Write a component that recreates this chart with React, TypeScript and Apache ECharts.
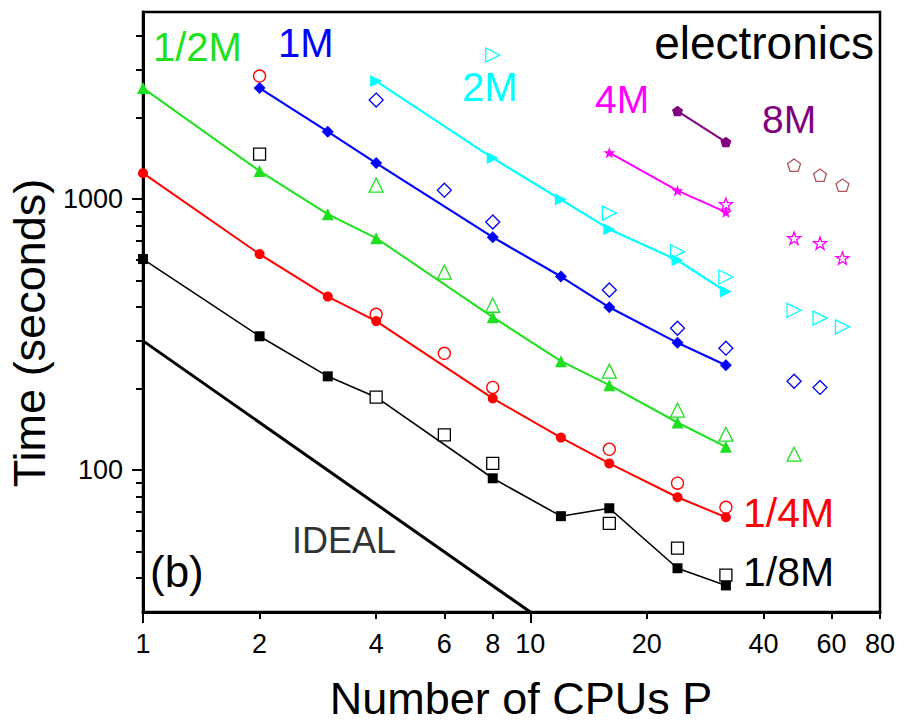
import React, { useEffect, useRef } from "react";
import * as echarts from "echarts";

// ---------- axes ----------
const X_MIN = 1;
const X_MAX = 80;
const Y_MIN = 30;
const Y_MAX = 4900;
const X_LABELS = [1, 2, 4, 6, 8, 10, 20, 40, 60, 80];
const X_MAJOR_TICKS = [1, 10];
const X_MINOR_TICKS = [2, 4, 6, 8, 20, 40, 60, 80];
const Y_LABELS = [100, 1000];
const Y_MAJOR_TICKS = [100, 1000];
const Y_MINOR_TICKS = [40, 50, 60, 70, 80, 90, 200, 300, 400, 500, 600, 700, 800, 900, 2000, 3000, 4000];

// ---------- data (P = number of CPUs, T = time in seconds) ----------
const P_8TH = [1, 2, 3, 4, 8, 12, 16, 24, 32];
const T_8TH = [601, 312, 222, 186, 93.4, 67.7, 72.4, 43.5, 37.6];
const P_8TH_OPEN = [2, 4, 6, 8, 16, 24, 32];
const T_8TH_OPEN = [1466, 186, 135, 106, 63.7, 51.6, 41];

const P_QUARTER = [1, 2, 3, 4, 8, 12, 16, 24, 32];
const T_QUARTER = [1247, 627, 437, 355, 184, 132, 106, 79.5, 67.1];
const P_QUARTER_OPEN = [2, 4, 6, 8, 16, 24, 32];
const T_QUARTER_OPEN = [2844, 376, 270, 202, 119.5, 89.6, 73.0];

const P_HALF = [1, 2, 3, 4, 8, 12, 16, 24, 32];
const T_HALF = [2568, 1269, 880, 718, 367, 252.5, 206, 150, 122];
const P_HALF_OPEN = [4, 6, 8, 16, 24, 32, 48];
const T_HALF_OPEN = [1126, 538, 406, 232, 166.5, 135.8, 114.6];

const P_1M = [2, 3, 4, 8, 12, 16, 24, 32];
const T_1M = [2568, 1774, 1358, 724, 518, 399, 295, 244];
const P_1M_OPEN = [4, 6, 8, 16, 24, 32, 48, 56];
const T_1M_OPEN = [2319, 1079, 823, 462, 334, 282, 213, 202];

const P_2M = [4, 8, 12, 16, 24, 32];
const T_2M = [2725, 1417, 996, 775, 595, 456];
const P_2M_OPEN = [8, 16, 24, 32, 48, 56, 64];
const T_2M_OPEN = [3400, 888, 640, 516, 389, 364, 338];

const P_4M = [16, 24, 32];
const T_4M = [1484, 1075, 895];
const P_4M_OPEN = [32, 48, 56, 64];
const T_4M_OPEN = [958, 718, 688, 606];

const P_8M = [24, 32];
const T_8M = [2112, 1623];
const P_8M_OPEN = [48, 56, 64];
const T_8M_OPEN = [1335, 1226, 1126];

const P_IDEAL = [1, 10];
const T_IDEAL = [300, 30];

// ---------- styles ----------
const FONT = '"Liberation Sans", Arial, Helvetica, sans-serif';
const GREEN = "#1ee01e";
const BLUE = "#0000ff";
const CYAN = "#00ffff";
const MAGENTA = "#ff00ff";
const PURPLE = "#800080";
const RED = "#ff0000";
const BLACK = "#000000";
const BROWN = "#b05555";

const STAR = "path://M100,0L123.5,67.6L195.1,69.1L138,112.4L158.8,180.9L100,140L41.2,180.9L62,112.4L4.9,69.1L76.5,67.6Z";
const PENTAGON = "path://M100,0L195.1,69.1L158.8,180.9L41.2,180.9L4.9,69.1Z";
const RIGHT_TRI = "path://M0,0L100,50L0,100Z";

const pairs = (xs: number[], ys: number[]) => xs.map((x, i) => [x, ys[i]]);

// filled points that sit exactly under an open marker are hidden by it
const visibleFilled = (xs: number[], ys: number[], oxs: number[], oys: number[]) =>
  pairs(xs, ys).filter(
    ([x, y]) => !oxs.some((ox, j) => ox === x && Math.abs(Math.log10(oys[j] / y)) < 0.01)
  );

const lineSeries = (name: string, xs: number[], ys: number[], color: string, width: number) => ({
  name,
  type: "line",
  data: pairs(xs, ys),
  symbol: "none",
  lineStyle: { color, width },
  z: 2,
  silent: true,
});

const filledSeries = (name: string, data: number[][], color: string, symbol: string, size: number) => ({
  name: name + " filled",
  type: "scatter",
  data,
  symbol,
  symbolSize: size,
  symbolKeepAspect: true,
  itemStyle: { color, opacity: 1 },
  z: 4,
  silent: true,
});

const openSeries = (name: string, xs: number[], ys: number[], color: string, symbol: string, size: number) => ({
  name: name + " open",
  type: "scatter",
  data: pairs(xs, ys),
  symbol,
  symbolSize: size,
  symbolKeepAspect: true,
  itemStyle: { color: "#ffffff", borderColor: color, borderWidth: 1.3, opacity: 1 },
  z: 3,
  silent: true,
});

const label = (text: string, x: number, y: number, color: string, size: number, align = "left") => ({
  type: "text",
  x,
  y,
  z: 10,
  silent: true,
  style: {
    text,
    fill: color,
    fontSize: size,
    fontFamily: FONT,
    align,
    verticalAlign: "middle",
  },
});

export default function App() {
  const ref = useRef<HTMLDivElement>(null);

  useEffect(() => {
    if (!ref.current) return;
    const chart = echarts.init(ref.current, undefined, { renderer: "svg" });

    const axisLine = { show: true, onZero: false, lineStyle: { color: BLACK, width: 3 } };
    const tickStyle = { color: BLACK, width: 2 };
    const plain = (v: number) => String(Math.round(v));

    const option: any = {
      animation: false,
      backgroundColor: "#ffffff",
      grid: {
        left: 143,
        right: 30,
        top: 12,
        bottom: 110,
        containLabel: false,
        outerBoundsMode: "none",
        show: true,
        borderColor: BLACK,
        borderWidth: 2.5,
        backgroundColor: "transparent",
      },
      xAxis: [
        {
          type: "log",
          logBase: 10,
          min: X_MIN,
          max: X_MAX,
          position: "bottom",
          axisLine,
          axisTick: { show: true, customValues: X_MAJOR_TICKS, length: 11, lineStyle: tickStyle },
          axisLabel: {
            customValues: X_LABELS,
            formatter: plain,
            fontSize: 27,
            color: BLACK,
            fontFamily: FONT,
            margin: 18,
          },
          splitLine: { show: false },
          minorTick: { show: false },
          minorSplitLine: { show: false },
          name: "Number of CPUs P",
          nameLocation: "middle",
          nameGap: 67,
          nameTextStyle: {
            fontSize: 45,
            lineHeight: 38,
            color: BLACK,
            fontFamily: FONT,
            padding: [0, 0, 0, 19],
          },
        },
        {
          type: "log",
          logBase: 10,
          min: X_MIN,
          max: X_MAX,
          position: "bottom",
          axisLine: { show: false, onZero: false },
          axisTick: { show: true, customValues: X_MINOR_TICKS, length: 7, lineStyle: tickStyle },
          axisLabel: { show: false },
          splitLine: { show: false },
        },
      ],
      yAxis: [
        {
          type: "log",
          logBase: 10,
          min: Y_MIN,
          max: Y_MAX,
          position: "left",
          axisLine,
          axisTick: { show: true, customValues: Y_MAJOR_TICKS, length: 11, lineStyle: tickStyle },
          axisLabel: {
            customValues: Y_LABELS,
            formatter: plain,
            fontSize: 27,
            color: BLACK,
            fontFamily: FONT,
            margin: 20,
          },
          splitLine: { show: false },
          minorTick: { show: false },
          name: "Time (seconds)",
          nameLocation: "middle",
          nameGap: 67,
          nameTextStyle: {
            fontSize: 45,
            lineHeight: 40,
            color: BLACK,
            fontFamily: FONT,
            padding: [0, 42, 0, 0],
          },
        },
        {
          type: "log",
          logBase: 10,
          min: Y_MIN,
          max: Y_MAX,
          position: "left",
          axisLine: { show: false, onZero: false },
          axisTick: { show: true, customValues: Y_MINOR_TICKS, length: 7, lineStyle: tickStyle },
          axisLabel: { show: false },
          splitLine: { show: false },
        },
      ],
      series: [
        lineSeries("IDEAL", P_IDEAL, T_IDEAL, BLACK, 3),
        lineSeries("1/8M", P_8TH, T_8TH, BLACK, 1.6),
        lineSeries("1/4M", P_QUARTER, T_QUARTER, RED, 2),
        lineSeries("1/2M", P_HALF, T_HALF, GREEN, 2),
        lineSeries("1M", P_1M, T_1M, BLUE, 2.2),
        lineSeries("2M", P_2M, T_2M, CYAN, 2.2),
        lineSeries("4M", P_4M, T_4M, MAGENTA, 2),
        lineSeries("8M", P_8M, T_8M, PURPLE, 2),

        openSeries("1/8M", P_8TH_OPEN, T_8TH_OPEN, BLACK, "rect", 12),
        openSeries("1/4M", P_QUARTER_OPEN, T_QUARTER_OPEN, RED, "circle", 12),
        openSeries("1/2M", P_HALF_OPEN, T_HALF_OPEN, GREEN, "triangle", 14),
        openSeries("1M", P_1M_OPEN, T_1M_OPEN, BLUE, "diamond", 14),
        openSeries("2M", P_2M_OPEN, T_2M_OPEN, CYAN, RIGHT_TRI, 14),
        openSeries("4M", P_4M_OPEN, T_4M_OPEN, MAGENTA, STAR, 13),
        openSeries("8M", P_8M_OPEN, T_8M_OPEN, BROWN, PENTAGON, 13),

        filledSeries("1/8M", visibleFilled(P_8TH, T_8TH, P_8TH_OPEN, T_8TH_OPEN), BLACK, "rect", 10),
        filledSeries("1/4M", visibleFilled(P_QUARTER, T_QUARTER, P_QUARTER_OPEN, T_QUARTER_OPEN), RED, "circle", 10),
        filledSeries("1/2M", visibleFilled(P_HALF, T_HALF, P_HALF_OPEN, T_HALF_OPEN), GREEN, "triangle", 12),
        filledSeries("1M", visibleFilled(P_1M, T_1M, P_1M_OPEN, T_1M_OPEN), BLUE, "diamond", 12),
        filledSeries("2M", visibleFilled(P_2M, T_2M, P_2M_OPEN, T_2M_OPEN), CYAN, RIGHT_TRI, 12),
        filledSeries("4M", visibleFilled(P_4M, T_4M, P_4M_OPEN, T_4M_OPEN), MAGENTA, STAR, 12),
        filledSeries("8M", visibleFilled(P_8M, T_8M, P_8M_OPEN, T_8M_OPEN), PURPLE, PENTAGON, 11),
      ],
      graphic: [
        label("1/2M", 153, 47, GREEN, 40),
        label("1M", 278, 43, BLUE, 40),
        label("2M", 462, 87, CYAN, 40),
        label("electronics", 874, 43, BLACK, 46, "right"),
        label("4M", 595, 99, MAGENTA, 39),
        label("8M", 762, 119, PURPLE, 39),
        label("1/4M", 743, 513, RED, 41),
        label("1/8M", 743, 572, BLACK, 41),
        label("IDEAL", 292, 540, "#333333", 36),
        label("(b)", 150, 571, BLACK, 44),
      ],
    };

    chart.setOption(option);
    return () => {
      chart.dispose();
    };
  }, []);

  return (
    <div
      ref={ref}
      style={{ position: "absolute", left: 0, top: 0, width: 910, height: 722, background: "#ffffff" }}
    />
  );
}
